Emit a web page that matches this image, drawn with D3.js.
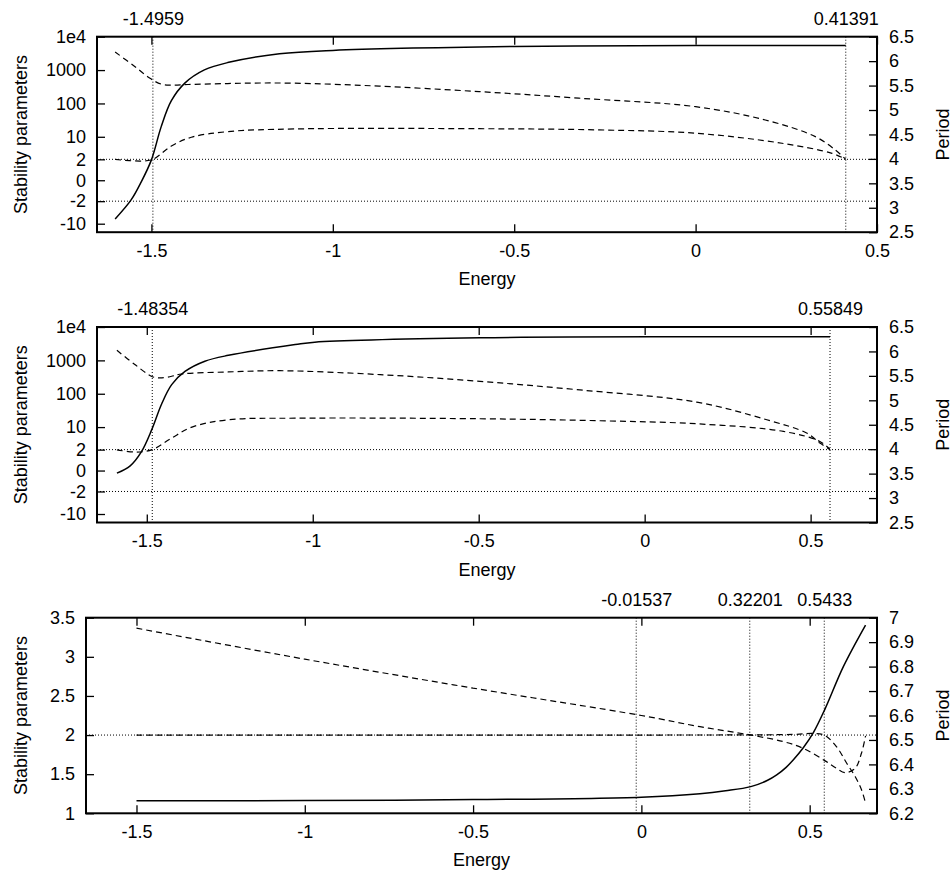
<!DOCTYPE html>
<html><head><meta charset="utf-8">
<script src="https://cdn.jsdelivr.net/npm/d3@7"></script>
<style>body{margin:0;background:#fff}svg{display:block}</style>
</head><body><svg id="c" width="952" height="873"></svg>
<script>
// ---------- data ----------
const energyTicks = [-1.5, -1, -0.5, 0, 0.5];
const stabLogTicks = [1e4, 1000, 100, 10, 2, 0, -2, -10];
const stabLogLabels = ["1e4", "1000", "100", "10", "2", "0", "-2", "-10"];
const periodTicks12 = [2.5, 3, 3.5, 4, 4.5, 5, 5.5, 6, 6.5];
const stabTicks3 = [1, 1.5, 2, 2.5, 3, 3.5];
const periodTicks3 = [6.2, 6.3, 6.4, 6.5, 6.6, 6.7, 6.8, 6.9, 7];

// panel 1
const p1Marks = [-1.4959, 0.41391];
const p1PeriodE = [-1.6, -1.556, -1.528, -1.5, -1.473, -1.445, -1.408, -1.354, -1.29, -1.147, -1.0, -0.5, 0, 0.41391];
const p1Period  = [2.77, 3.16, 3.53, 3.98, 4.66, 5.19, 5.55, 5.82, 5.97, 6.15, 6.22, 6.30, 6.32, 6.32];
const p1StabAE = [-1.6, -1.546, -1.505, -1.473, -1.445, -1.399, -1.29, -1.2, -1.106, -1.0, -0.872, -0.597, -0.322, 0.0, 0.192, 0.33, 0.385, 0.41391];
const p1StabA  = [3470, 1282, 575, 380, 354, 370, 395, 410, 405, 375, 330, 227, 144, 80, 32, 10.1, 3.97, 2];
const p1StabBE = [-1.6, -1.528, -1.4959, -1.445, -1.39, -1.29, -1.106, -0.597, -0.267, 0.0, 0.238, 0.376, 0.41391];
const p1StabB  = [1.98, 1.75, 2, 5.27, 9.68, 14.3, 17.2, 17.5, 16.1, 12.8, 6.37, 3.13, 2];

// panel 2
const p2Marks = [-1.48354, 0.55849];
const p2PeriodE = [-1.59, -1.55, -1.516, -1.485, -1.455, -1.425, -1.385, -1.325, -1.254, -1.053, -0.994, -0.496, 0.157, 0.55849];
const p2Period  = [3.51, 3.66, 3.95, 4.40, 4.93, 5.32, 5.59, 5.80, 5.92, 6.14, 6.19, 6.28, 6.30, 6.30];
const p2StabAE = [-1.59, -1.536, -1.485, -1.465, -1.44, -1.395, -1.254, -1.099, -0.797, -0.496, -0.195, 0.157, 0.368, 0.488, 0.528, 0.55849];
const p2StabA  = [2000, 750, 330, 300, 310, 390, 450, 490, 374, 235, 130, 56, 16.6, 6.6, 3.25, 2];
const p2StabBE = [-1.59, -1.53, -1.48354, -1.425, -1.364, -1.254, -1.053, -0.496, -0.134, 0.162, 0.418, 0.528, 0.55849];
const p2StabB  = [1.97, 1.65, 2, 4.64, 10.0, 16.6, 18.5, 17.8, 15.5, 12.5, 7.4, 3.65, 2];

// panel 3
const p3Marks = [-0.01537, 0.32201, 0.5433];
const p3PeriodE = [-1.5, -1.0, -0.5, 0, 0.174, 0.25, 0.325, 0.375, 0.402, 0.43, 0.451, 0.481, 0.511, 0.546, 0.6, 0.666];
const p3Period  = [6.251, 6.252, 6.256, 6.266, 6.280, 6.292, 6.309, 6.335, 6.357, 6.388, 6.418, 6.468, 6.530, 6.628, 6.80, 6.97];
const p3StabAE = [-1.5, -1.0, -0.5, 0, 0.174, 0.325, 0.422, 0.481, 0.546, 0.58, 0.605, 0.635, 0.654, 0.666];
const p3StabA  = [3.366, 2.97, 2.6, 2.25, 2.107, 2.0, 1.916, 1.83, 1.67, 1.575, 1.52, 1.575, 1.77, 1.99];
const p3StabBE = [-1.5, 0.0, 0.45, 0.51, 0.5433, 0.58, 0.61, 0.635, 0.654, 0.666];
const p3StabB  = [2.0, 2.0, 2.008, 2.02, 2.0, 1.85, 1.64, 1.47, 1.30, 1.13];

// ---------- drawing ----------
const svg = d3.select("#c");
svg.append("rect").attr("width", 952).attr("height", 873).attr("fill", "#fff");
const FONT = "'Liberation Sans', Arial, sans-serif";
const FS = 18;
const TICK = 8;

const panels = [
  { left: 97, right: 877, top: 36.7, bottom: 232.2, xDom: [-1.65, 0.5], log: true,
    marks: p1Marks, hlines: [2, -2],
    period: [p1PeriodE, p1Period], sA: [p1StabAE, p1StabA], sB: [p1StabBE, p1StabB],
    pTicks: periodTicks12, pDom: [2.5, 6.5] },
  { left: 97, right: 877, top: 327.0, bottom: 522.5, xDom: [-1.65, 0.7], log: true,
    marks: p2Marks, hlines: [2, -2],
    period: [p2PeriodE, p2Period], sA: [p2StabAE, p2StabA], sB: [p2StabBE, p2StabB],
    pTicks: periodTicks12, pDom: [2.5, 6.5] },
  { left: 86, right: 877, top: 617.7, bottom: 813.3, xDom: [-1.65, 0.7], log: false,
    marks: p3Marks, hlines: [2],
    period: [p3PeriodE, p3Period], sA: [p3StabAE, p3StabA], sB: [p3StabBE, p3StabB],
    pTicks: periodTicks3, pDom: [6.2, 7] }
];

function styleAxis(g) {
  g.attr("font-family", FONT).attr("font-size", FS);
  g.select(".domain").remove();
  g.selectAll(".tick line").attr("stroke", "#000").attr("stroke-width", 1.3);
  g.selectAll(".tick text").attr("fill", "#000");
}

const smooth = d3.curveCatmullRom.alpha(0.5);

panels.forEach(p => {
  const x = d3.scaleLinear().domain(p.xDom).range([p.left, p.right]);
  const tf = p.log ? Math.asinh : (v => v);
  const yS = p.log
    ? d3.scaleLinear().domain([Math.asinh(-18), Math.asinh(1e4)]).range([p.bottom, p.top])
    : d3.scaleLinear().domain([1, 3.5]).range([p.bottom, p.top]);
  const yP = d3.scaleLinear().domain(p.pDom).range([p.bottom, p.top]);
  const g = svg.append("g");

  // dotted reference lines
  p.hlines.forEach(h => {
    g.append("line").attr("x1", p.left).attr("x2", p.right)
      .attr("y1", yS(tf(h))).attr("y2", yS(tf(h)))
      .attr("stroke", "#000").attr("stroke-width", 1).attr("stroke-dasharray", "1,2");
  });
  p.marks.forEach(m => {
    g.append("line").attr("x1", x(m)).attr("x2", x(m))
      .attr("y1", p.top).attr("y2", p.bottom)
      .attr("stroke", "#000").attr("stroke-width", 1).attr("stroke-dasharray", "1,2");
  });

  // curves
  const lineS = d3.line().curve(smooth).x(d => x(d[0])).y(d => yS(tf(d[1])));
  const lineP = d3.line().curve(smooth).x(d => x(d[0])).y(d => yP(d[1]));
  [p.sA, p.sB].forEach(s => {
    g.append("path").datum(d3.zip(s[0], s[1])).attr("d", lineS)
      .attr("fill", "none").attr("stroke", "#000").attr("stroke-width", 1.2)
      .attr("stroke-dasharray", "6,4");
  });
  g.append("path").datum(d3.zip(p.period[0], p.period[1])).attr("d", lineP)
    .attr("fill", "none").attr("stroke", "#000").attr("stroke-width", 1.5);

  // axes
  const fmt = d => String(d);
  g.append("g").attr("transform", `translate(0,${p.bottom})`)
    .call(d3.axisBottom(x).tickValues(energyTicks).tickFormat(fmt).tickSizeInner(-TICK).tickSizeOuter(0).tickPadding(12))
    .call(styleAxis);
  g.append("g").attr("transform", `translate(0,${p.top})`)
    .call(d3.axisTop(x).tickValues(energyTicks).tickFormat("").tickSizeInner(-TICK).tickSizeOuter(0))
    .call(styleAxis);
  g.append("g").attr("transform", `translate(0,${p.top})`)
    .call(d3.axisTop(x).tickValues(p.marks).tickFormat(fmt).tickSize(0).tickPadding(12))
    .call(styleAxis);

  if (p.log) {
    g.append("g").attr("transform", `translate(${p.left},0)`)
      .call(d3.axisLeft(yS).tickValues(stabLogTicks.map(Math.asinh))
        .tickFormat((d, i) => stabLogLabels[i]).tickSizeInner(-TICK).tickSizeOuter(0).tickPadding(11))
      .call(styleAxis);
  } else {
    g.append("g").attr("transform", `translate(${p.left},0)`)
      .call(d3.axisLeft(yS).tickValues(stabTicks3).tickFormat(fmt).tickSizeInner(-TICK).tickSizeOuter(0).tickPadding(11))
      .call(styleAxis);
  }
  g.append("g").attr("transform", `translate(${p.right},0)`)
    .call(d3.axisRight(yP).tickValues(p.pTicks).tickFormat(fmt).tickSizeInner(-TICK).tickSizeOuter(0).tickPadding(12))
    .call(styleAxis);

  // frame
  g.append("rect").attr("x", p.left).attr("y", p.top)
    .attr("width", p.right - p.left).attr("height", p.bottom - p.top)
    .attr("fill", "none").attr("stroke", "#000").attr("stroke-width", 2);

  // axis titles
  const cy = (p.top + p.bottom) / 2;
  g.append("text").attr("x", (p.left + p.right) / 2).attr("y", p.bottom + 53)
    .attr("text-anchor", "middle").attr("font-family", FONT).attr("font-size", FS)
    .text("Energy");
  g.append("text").attr("transform", `translate(26.5,${cy}) rotate(-90)`)
    .attr("text-anchor", "middle").attr("font-family", FONT).attr("font-size", FS)
    .text("Stability parameters");
  g.append("text").attr("transform", `translate(949,${cy}) rotate(-90)`)
    .attr("text-anchor", "middle").attr("font-family", FONT).attr("font-size", FS)
    .text("Period");
});
</script></body></html>
